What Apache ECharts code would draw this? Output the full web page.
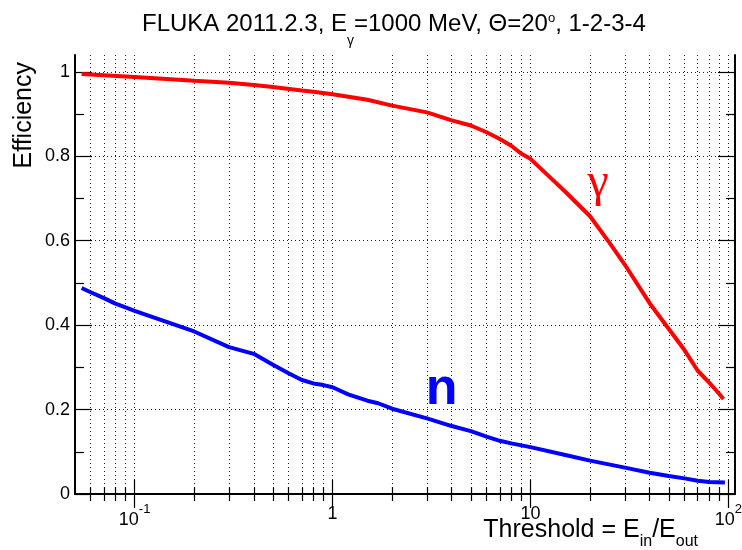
<!DOCTYPE html>
<html>
<head>
<meta charset="utf-8">
<script src="https://cdn.jsdelivr.net/npm/echarts@6/dist/echarts.min.js"></script>
<style>
  html, body { margin: 0; padding: 0; background: #fff; }
  #chart { width: 742px; height: 550px; }
</style>
</head>
<body>
<div id="chart"></div>
<script>
// Photon efficiency vs. threshold
const gammaThreshold = [0.054, 0.1, 0.2, 0.3, 0.4, 0.5, 0.7, 0.8, 1, 1.5, 2, 3, 4, 5, 6, 7, 8, 9, 10, 12, 15, 20, 25, 30, 40, 50, 60, 70, 80, 90, 94.4];
const gammaEfficiency = [0.995, 0.988, 0.979, 0.974, 0.969, 0.964, 0.956, 0.953, 0.947, 0.934, 0.920, 0.904, 0.885, 0.873, 0.857, 0.841, 0.825, 0.806, 0.794, 0.759, 0.716, 0.658, 0.596, 0.543, 0.452, 0.391, 0.341, 0.292, 0.264, 0.237, 0.225];

// Neutron efficiency vs. threshold
const neutronThreshold = [0.054, 0.06, 0.07, 0.08, 0.09, 0.1, 0.2, 0.3, 0.4, 0.5, 0.6, 0.7, 0.8, 0.9, 1, 1.2, 1.5, 1.7, 2, 3, 4, 5, 6, 7, 8, 10, 15, 20, 30, 40, 50, 60, 70, 80, 96];
const neutronEfficiency = [0.488, 0.478, 0.464, 0.451, 0.442, 0.434, 0.385, 0.348, 0.332, 0.306, 0.286, 0.270, 0.262, 0.258, 0.253, 0.236, 0.221, 0.215, 0.202, 0.179, 0.161, 0.149, 0.136, 0.126, 0.120, 0.111, 0.0925, 0.079, 0.0624, 0.0505, 0.0427, 0.037, 0.0316, 0.0285, 0.027];

// Tick positions
const xMajorTicks = [0.1, 1, 10, 100];
const xMinorTicks = [0.06, 0.07, 0.08, 0.09, 0.2, 0.3, 0.4, 0.5, 0.6, 0.7, 0.8, 0.9, 2, 3, 4, 5, 6, 7, 8, 9, 20, 30, 40, 50, 60, 70, 80, 90];
const yMajorTicks = [0, 0.2, 0.4, 0.6, 0.8, 1];
const yMinorTicks = [0.1, 0.3, 0.5, 0.7, 0.9];

// Curve labels: [threshold, efficiency, text]
const gammaTag = [22, 0.735, 'γ'];
const neutronTag = [3.56, 0.248, 'n'];

const FONT = '"Liberation Sans", Arial, Helvetica, sans-serif';
const X_RANGE = [0.05, 108];
const Y_RANGE = [0, 1.04];

const dotted = { color: '#222', width: 1, type: [1, 3] };
const frame = { color: '#000', width: 2 };

function zip(xs, ys) { return xs.map((x, i) => [x, ys[i]]); }

function xLabel(v) {
  const p = Math.round(Math.log10(v));
  if (p === 0) return '{b|1}';
  if (p === 1) return '{b|10}';
  return '{b|10}{s|' + p + '}';
}

function xAxisDef(position, ticks, len, opts) {
  return Object.assign({
    type: 'log', logBase: 10, gridIndex: 0, position: position,
    min: X_RANGE[0], max: X_RANGE[1],
    axisLine: { show: false },
    axisTick: { show: true, inside: true, length: len, customValues: ticks, lineStyle: { color: '#000', width: 1.2 } },
    axisLabel: { show: false },
    splitLine: { show: false }
  }, opts || {});
}

function yAxisDef(position, ticks, len, opts) {
  return Object.assign({
    type: 'value', gridIndex: 0, position: position,
    min: Y_RANGE[0], max: Y_RANGE[1],
    axisLine: { show: false },
    axisTick: { show: true, inside: true, length: len, customValues: ticks, lineStyle: { color: '#000', width: 1.2 } },
    axisLabel: { show: false },
    splitLine: { show: false }
  }, opts || {});
}

const chart = echarts.init(document.getElementById('chart'), null, { renderer: 'canvas' });

chart.setOption({
  animation: false,
  backgroundColor: '#fff',
  title: {
    text: '{a|FLUKA 2011.2.3, E}{g|γ}{a|=1000 MeV, Θ=20}{o|o}{a|, 1-2-3-4}',
    left: 137, top: 7,
    textStyle: {
      fontWeight: 'normal',
      rich: {
        a: { fontFamily: FONT, fontWeight: 'normal', fontSize: 24, color: '#000', lineHeight: 28, verticalAlign: 'top' },
        g: { fontFamily: FONT, fontWeight: 'normal', fontSize: 14, color: '#000', lineHeight: 36, verticalAlign: 'bottom' },
        o: { fontFamily: FONT, fontWeight: 'normal', fontSize: 13, color: '#000', lineHeight: 15, verticalAlign: 'top' }
      }
    }
  },
  grid: { left: 75, right: 7, top: 55, bottom: 56, containLabel: false, outerBoundsMode: 'none' },
  xAxis: [
    xAxisDef('bottom', xMajorTicks, 14, {
      axisLine: { show: true, lineStyle: frame },
      axisLabel: {
        show: true, customValues: xMajorTicks, margin: 9,
        formatter: xLabel,
        rich: {
          b: { fontFamily: FONT, fontSize: 18, color: '#000', lineHeight: 20, verticalAlign: 'bottom' },
          s: { fontFamily: FONT, fontSize: 13, color: '#000', lineHeight: 26, verticalAlign: 'top' }
        }
      },
      splitLine: { show: true, lineStyle: dotted }
    }),
    xAxisDef('bottom', xMinorTicks, 7, { splitLine: { show: true, lineStyle: dotted } }),
    xAxisDef('top', xMajorTicks, 14, { axisLine: { show: true, lineStyle: frame } }),
    xAxisDef('top', xMinorTicks, 7)
  ],
  yAxis: [
    yAxisDef('left', yMajorTicks, 17, {
      axisLine: { show: true, lineStyle: frame },
      axisLabel: {
        show: true, customValues: yMajorTicks, margin: 5,
        fontFamily: FONT, fontSize: 18, color: '#000',
        formatter: v => String(+v.toFixed(1))
      },
      splitLine: { show: true, lineStyle: dotted }
    }),
    yAxisDef('left', yMinorTicks, 9),
    yAxisDef('right', yMajorTicks, 17, { axisLine: { show: true, lineStyle: frame } }),
    yAxisDef('right', yMinorTicks, 9)
  ],
  graphic: [
    {
      type: 'text', x: 24, y: 62, rotation: Math.PI / 2,
      style: { text: 'Efficiency', align: 'right', verticalAlign: 'middle', font: '25px ' + FONT, fill: '#000' }
    },
    {
      type: 'text', right: 44, top: 518,
      style: {
        text: '{m|Threshold = E}{u|in}{m|/E}{u|out}',
        rich: {
          m: { fontFamily: FONT, fontSize: 25, fill: '#000', lineHeight: 28, verticalAlign: 'top' },
          u: { fontFamily: FONT, fontSize: 16, fill: '#000', lineHeight: 32, verticalAlign: 'bottom' }
        }
      }
    }
  ],
  series: [
    {
      name: 'gamma', type: 'line', xAxisIndex: 0, yAxisIndex: 0,
      data: zip(gammaThreshold, gammaEfficiency),
      showSymbol: false, symbol: 'none',
      lineStyle: { color: '#ff0000', width: 4 },
      itemStyle: { color: '#ff0000' },
      markPoint: {
        symbol: 'circle', symbolSize: 1, itemStyle: { color: 'rgba(0,0,0,0)' },
        label: { show: true, position: 'inside', formatter: gammaTag[2], fontFamily: '"Liberation Serif", "DejaVu Serif", serif', fontSize: 48, color: '#ff0000' },
        data: [{ coord: [gammaTag[0], gammaTag[1]] }]
      }
    },
    {
      name: 'n', type: 'line', xAxisIndex: 0, yAxisIndex: 0,
      data: zip(neutronThreshold, neutronEfficiency),
      showSymbol: false, symbol: 'none',
      lineStyle: { color: '#0000ff', width: 4 },
      itemStyle: { color: '#0000ff' },
      markPoint: {
        symbol: 'circle', symbolSize: 1, itemStyle: { color: 'rgba(0,0,0,0)' },
        label: { show: true, position: 'inside', formatter: neutronTag[2], fontFamily: FONT, fontWeight: 'bold', fontSize: 52, color: '#0000ff' },
        data: [{ coord: [neutronTag[0], neutronTag[1]] }]
      }
    }
  ]
});
</script>
</body>
</html>
